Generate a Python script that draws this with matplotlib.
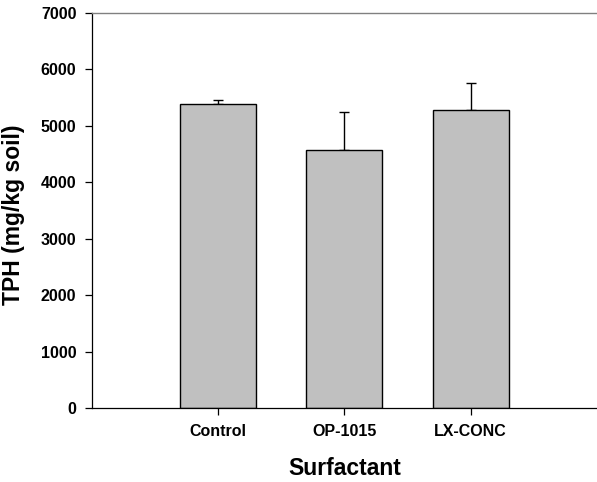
import matplotlib.pyplot as plt

# TPH remaining in soil for each surfactant treatment
surfactants = ["Control", "OP-1015", "LX-CONC"]
tph_mean = [5380, 4566, 5280]
tph_err = [80, 673, 478]
y_ticks = [0, 1000, 2000, 3000, 4000, 5000, 6000, 7000]

plt.rcParams['font.family'] = ['Liberation Sans', 'DejaVu Sans']

fig = plt.figure(figsize=(5.97, 4.82), dpi=100)
ax = fig.add_axes([0.1536, 0.1529, 0.8464, 0.8208])

pos = [1, 2, 3]
ax.bar(pos, tph_mean, width=0.6, color='#c0c0c0', edgecolor='black',
       linewidth=1.0, zorder=2)
ax.errorbar(pos, tph_mean, yerr=[[0, 0, 0], tph_err], fmt='none',
            ecolor='black', elinewidth=1.0, capsize=3.6, capthick=1.0,
            zorder=1)

ax.set_xlim(0, 4)
ax.set_ylim(0, 7000)
ax.set_xticks(pos)
ax.set_xticklabels(surfactants, fontsize=11.5, fontweight='bold')
ax.set_yticks(y_ticks)
ax.set_yticklabels([str(v) for v in y_ticks], fontsize=11.5, fontweight='bold')
ax.tick_params(axis='both', direction='out', length=5, width=0.9, pad=6)

# open frame: left/bottom axes plus a thin grey line along the top
ax.spines['right'].set_visible(False)
ax.spines['top'].set_color('#808080')
ax.spines['top'].set_linewidth(1.0)
for side in ('left', 'bottom'):
    ax.spines[side].set_linewidth(0.9)

ax.set_xlabel("Surfactant", fontsize=16.5, fontweight='bold', labelpad=13)
ax.set_ylabel("TPH (mg/kg soil)", fontsize=16.5, fontweight='bold')
ax.yaxis.set_label_coords(-0.132, 0.489)

fig.savefig("out.png", dpi=100)
